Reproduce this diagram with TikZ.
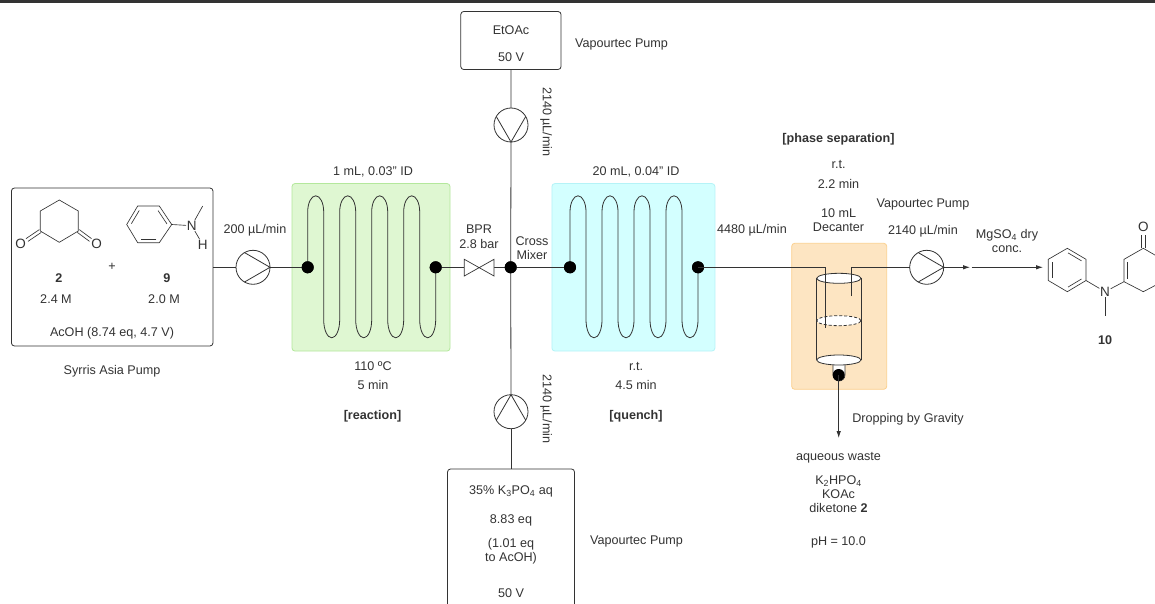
\documentclass[tikz,border=0pt]{standalone}
\usepackage{fontspec}
\setmainfont{Liberation Sans}
\usetikzlibrary{arrows.meta,calc}
\definecolor{ink}{HTML}{333333}
\definecolor{greenfill}{HTML}{DFF7D2}
\definecolor{greenline}{HTML}{B4E89C}
\definecolor{cyanfill}{HTML}{D3FFFF}
\definecolor{cyanline}{HTML}{B5F3F7}
\definecolor{orangefill}{HTML}{FDE5C2}
\definecolor{orangeline}{HTML}{FBD08E}
\tikzset{
  lab/.style={inner sep=0pt,align=center,text=ink,yshift=-1pt,font=\fontsize{12.6}{14}\selectfont},
  blab/.style={lab,font=\fontsize{12.6}{14}\selectfont\bfseries},
  atom/.style={inner sep=0.6pt,text=ink,font=\fontsize{13.5}{14}\selectfont},
  wire/.style={draw=ink,line width=0.8pt},
  thin wire/.style={draw=ink,line width=0.65pt},
  boxn/.style={draw=ink,line width=0.8pt,rounded corners=3pt,inner sep=0pt,fill=white},
  pumpc/.style={circle,draw=ink,line width=0.8pt,fill=white,minimum size=34pt,inner sep=0pt,outer sep=0pt},
  dotn/.style={circle,fill=black,minimum size=12pt,inner sep=0pt,outer sep=0pt},
  zone/.style={rounded corners=3pt,inner sep=0pt,line width=0.8pt},
  tip/.style={-{Latex[length=7pt,width=4.5pt]}}
}
\newcommand{\coil}[2]{%
  \draw[wire] (#1.center) -- ++(0,-55.5)
    arc[start angle=180,end angle=0,x radius=8pt,y radius=16pt] -- ++(0,108)
    arc[start angle=180,end angle=360,x radius=8pt,y radius=18pt] -- ++(0,-108)
    arc[start angle=180,end angle=0,x radius=8pt,y radius=16pt] -- ++(0,108)
    arc[start angle=180,end angle=360,x radius=8pt,y radius=18pt] -- ++(0,-108)
    arc[start angle=180,end angle=0,x radius=8pt,y radius=16pt] -- ++(0,108)
    arc[start angle=180,end angle=360,x radius=8pt,y radius=18pt] -- ++(0,-108)
    arc[start angle=180,end angle=0,x radius=8pt,y radius=16pt] -- ++(0,108)
    arc[start angle=180,end angle=360,x radius=8pt,y radius=18pt] -- (#2.center);}
\newcommand{\inbond}[2]{\draw[thin wire] ($(#1)!.14!(#2)!3.6pt!-90:(#2)$) -- ($(#2)!.14!(#1)!3.6pt!90:(#1)$);}
\newcommand{\cobond}[2]{%
  \draw[thin wire] ($(#1)!1.7pt!90:(#2)$) -- ($(#2)!1.7pt!-90:(#1)$);
  \draw[thin wire] ($(#1)!1.7pt!-90:(#2)$) -- ($(#2)!1.7pt!90:(#1)$);}
\begin{document}
\begin{tikzpicture}[x=1pt,y=-1pt]
\clip (0,0) rectangle (1155,604);
\fill[white] (0,0) rectangle (1155,604);
\fill[ink] (0,0) rectangle (1155,2.6);

% zones
\node[zone,draw=greenline,fill=greenfill,minimum width=158pt,minimum height=167.5pt] (hot) at (371,267.3) {};
\node[zone,draw=cyanline,fill=cyanfill,minimum width=163pt,minimum height=167.5pt] (cold) at (633.4,267.3) {};
\node[zone,draw=orangeline,fill=orangefill,minimum width=95pt,minimum height=146pt] (sep) at (839.2,316.3) {};

% feed boxes
\node[boxn,minimum width=201.5pt,minimum height=158pt] (feed) at (112.2,267) {};
\node[boxn,minimum width=100.3pt,minimum height=58pt] (etoac) at (510.9,40.5) {};
\node[boxn,minimum width=127pt,minimum height=200pt] (base) at (511,569) {};

% pumps and junctions
\node[pumpc] (p1) at (253,267.3) {};
\node[pumpc] (p2) at (511,125) {};
\node[pumpc] (p3) at (511,411.7) {};
\node[pumpc] (p4) at (926.7,267.3) {};
\node[dotn] (c1a) at (307.7,267.3) {};
\node[dotn] (c1b) at (435.7,267.3) {};
\node[dotn] (mix) at (510.7,267.3) {};
\node[dotn] (c2a) at (570,267.3) {};
\node[dotn] (c2b) at (698,267.3) {};
\coordinate (bprL) at (464.3,267.3);
\coordinate (bprR) at (494,267.3);
\coordinate (bprLt) at (464.3,259.3);
\coordinate (bprLb) at (464.3,276);
\coordinate (bprRt) at (494,259.3);
\coordinate (bprRb) at (494,276);

% coils
\coil{c1a}{c1b}
\coil{c2a}{c2b}

% connectors
\draw[wire] (feed.east |- p1) -- (p1.west);
\draw[wire] (p1.east) -- (c1a.center);
\draw[wire] (c1b.center) -- (bprL);
\draw[wire] (bprR) -- (mix.center);
\draw[wire] (mix.center) -- (c2a.center);
\draw[wire] (etoac.south) -- (p2.north);
\draw[wire] (p2.south) -- (mix.center);
\draw[wire] (mix.center) -- (p3.north);
\draw[wire] (p3.south) -- (base.north);
\draw[draw=ink,line width=0.7pt,fill=white] (bprLt) -- (bprRb) -- (bprRt) -- (bprLb) -- cycle;
\node[dotn] at (mix) {};
\node[dotn] at (c1a) {};
\node[dotn] at (c1b) {};
\node[dotn] at (c2a) {};
\node[dotn] at (c2b) {};

% pump triangles
\draw[wire] (p1.120) -- (p1.0) -- (p1.240);
\draw[wire] (p4.120) -- (p4.0) -- (p4.240);
\draw[wire] (p2.30) -- (p2.270) -- (p2.150);
\draw[wire] (p3.210) -- (p3.90) -- (p3.330);

% decanter
\coordinate (cylTL) at (816.7,278.3);
\coordinate (cylTR) at (861,278.3);
\coordinate (cylBL) at (816.7,360);
\coordinate (cylBR) at (861,360);
\coordinate (inEnd) at (825.7,328.3);
\coordinate (inTop) at (825.7,267.3);
\coordinate (outEnd) at (851.7,296);
\coordinate (outTop) at (851.7,267.3);
\coordinate (wasteEnd) at (838.7,438);
\draw[thin wire,fill=white] (833,360) -- (833,375) arc[start angle=180,end angle=360,x radius=6pt,y radius=6pt] -- (845,360);
\draw[wire] (cylTL) -- (cylBL);
\draw[wire] (cylTR) -- (cylBR);
\draw[wire,fill=white] (838.85,278.3) ellipse[x radius=22.15pt,y radius=5pt];
\draw[wire,fill=white,dashed,dash pattern=on 3pt off 2pt] (838.85,320.7) ellipse[x radius=22.15pt,y radius=5pt];
\draw[wire,fill=white] (838.85,360) ellipse[x radius=22.15pt,y radius=5pt];
\node[dotn] (drop) at (838.7,375) {};
\draw[wire] (c2b.center) -- (inTop) -- (inEnd);
\draw[wire] (outEnd) -- (outTop) -- (p4.west);
\draw[wire,tip] (drop.center) -- (wasteEnd);
\coordinate (a1) at (970,267.3);
\coordinate (a2) at (971.7,267.3);
\coordinate (a3) at (1043,267.3);
\draw[wire,tip] (p4.east) -- (a1);
\draw[wire,tip] (a2) -- (a3);

% structure 2
\coordinate (d1) at (59.3,200);
\coordinate (d2) at (78.3,211);
\coordinate (d3) at (78.3,231);
\coordinate (d4) at (59.3,242.3);
\coordinate (d5) at (40.3,231);
\coordinate (d6) at (40.3,211);
\draw[thin wire] (d1) -- (d2) -- (d3) -- (d4) -- (d5) -- (d6) -- cycle;
\node[atom] (o1) at (20.7,244) {O};
\node[atom] (o2) at (96.7,244) {O};
\coordinate (o1e) at (27,240);
\coordinate (o2e) at (90.5,240);
\cobond{d5}{o1e}
\cobond{d3}{o2e}

% structure 9
\coordinate (r1) at (137.7,206);
\coordinate (r2) at (159.3,206);
\coordinate (r3) at (171.7,224.5);
\coordinate (r4) at (159.3,242.7);
\coordinate (r5) at (137.7,242.7);
\coordinate (r6) at (126.7,224.5);
\draw[thin wire] (r1) -- (r2) -- (r3) -- (r4) -- (r5) -- (r6) -- cycle;
\inbond{r6}{r1}
\inbond{r2}{r3}
\inbond{r4}{r5}
\node[atom] (n1) at (191.7,225.7) {N};
\node[atom] (h1) at (202.7,244.5) {H};
\coordinate (me1) at (202.7,206);
\draw[thin wire] (r3) -- (n1);
\draw[thin wire] (n1) -- (me1);
\draw[thin wire] (n1) -- (h1);

% structure 10
\coordinate (s1) at (1067.3,248.3);
\coordinate (s2) at (1086,259.3);
\coordinate (s3) at (1086,280.5);
\coordinate (s4) at (1067.3,291.7);
\coordinate (s5) at (1048.3,280.5);
\coordinate (s6) at (1048.3,259.3);
\draw[thin wire] (s1) -- (s2) -- (s3) -- (s4) -- (s5) -- (s6) -- cycle;
\inbond{s1}{s2}
\inbond{s3}{s4}
\inbond{s5}{s6}
\node[atom] (n2) at (1105,291.7) {N};
\coordinate (me2) at (1105,315.7);
\coordinate (e1) at (1124,281.7);
\coordinate (e2) at (1124,259.3);
\coordinate (e3) at (1143.3,248.3);
\coordinate (e4) at (1162.3,259.3);
\coordinate (e5) at (1162.3,281.7);
\coordinate (e6) at (1143.3,291.7);
\node[atom] (o3) at (1143.3,227.3) {O};
\coordinate (o3e) at (1143.3,234.5);
\draw[thin wire] (s3) -- (n2);
\draw[thin wire] (n2) -- (me2);
\draw[thin wire] (n2) -- (e1);
\draw[thin wire] (e1) -- (e2) -- (e3) -- (e4) -- (e5) -- (e6) -- cycle;
\inbond{e1}{e2}
\cobond{e3}{o3e}

% labels
\node[blab] (l2) at (59,277) {2};
\node[blab] (l9) at (167,277) {9};
\node[lab] (lplus) at (112,265.5) {+};
\node[lab] (lc2) at (56,298) {2.4 M};
\node[lab] (lc9) at (164,298) {2.0 M};
\node[lab] (lacoh) at (112,332) {AcOH (8.74 eq, 4.7 V)};
\node[lab] (lsyr) at (112,370) {Syrris Asia Pump};
\node[lab] (lf1) at (255,229.5) {200 µL/min};
\node[lab] (lr1) at (373,171) {1 mL, 0.03" ID};
\node[lab] (lr2) at (373,365) {110 ºC};
\node[lab] (lr3) at (373,384) {5 min};
\node[blab] (lr4) at (372.5,415) {[reaction]};
\node[lab] (lb1) at (479,228) {BPR};
\node[lab] (lb2) at (479,242.5) {2.8 bar};
\node[lab] (lm1) at (532,240) {Cross};
\node[lab] (lm2) at (532,254) {Mixer};
\node[lab] (lq1) at (636,171) {20 mL, 0.04" ID};
\node[lab] (lq2) at (636,365) {r.t.};
\node[lab] (lq3) at (636,384) {4.5 min};
\node[blab] (lq4) at (636,415) {[quench]};
\node[lab] (lf2) at (752,229.5) {4480 µL/min};
\node[blab] (lp1) at (838.5,138) {[phase separation]};
\node[lab] (lp2) at (838.5,163) {r.t.};
\node[lab] (lp3) at (838.5,182.5) {2.2 min};
\node[lab] (lp4) at (838.5,212) {10 mL};
\node[lab] (lp5) at (838.5,226) {Decanter};
\node[lab] (lv4) at (923,203) {Vapourtec Pump};
\node[lab] (lf3) at (923,230) {2140 µL/min};
\node[lab] (lmg) at (1007,234) {MgSO\textsubscript{4} dry};
\node[lab] (lcn) at (1007,248) {conc.};
\node[blab] (l10) at (1105,339) {10};
\node[lab] (let) at (511,29) {EtOAc};
\node[lab] (lv1) at (511,56) {50 V};
\node[lab] (lv2) at (621.5,43) {Vapourtec Pump};
\node[lab,rotate=-90] (lf4) at (546,121) {2140 µL/min};
\node[lab,rotate=-90] (lf5) at (546,408) {2140 µL/min};
\node[lab] (lk1) at (511,490.5) {35\% K\textsubscript{3}PO\textsubscript{4} aq};
\node[lab] (lk2) at (511,519) {8.83 eq};
\node[lab] (lk3) at (511,543) {(1.01 eq};
\node[lab] (lk4) at (511,557.5) {to AcOH)};
\node[lab] (lk5) at (511,592) {50 V};
\node[lab] (lv3) at (636.5,540) {Vapourtec Pump};
\node[lab] (ldr) at (908,418) {Dropping by Gravity};
\node[lab] (lw1) at (838.5,456.5) {aqueous waste};
\node[lab] (lw2) at (838.5,480) {K\textsubscript{2}HPO\textsubscript{4}};
\node[lab] (lw3) at (838.5,493.5) {KOAc};
\node[lab] (lw4) at (838.5,507) {diketone \textbf{2}};
\node[lab] (lph) at (838.5,541) {pH = 10.0};
\end{tikzpicture}
\end{document}
